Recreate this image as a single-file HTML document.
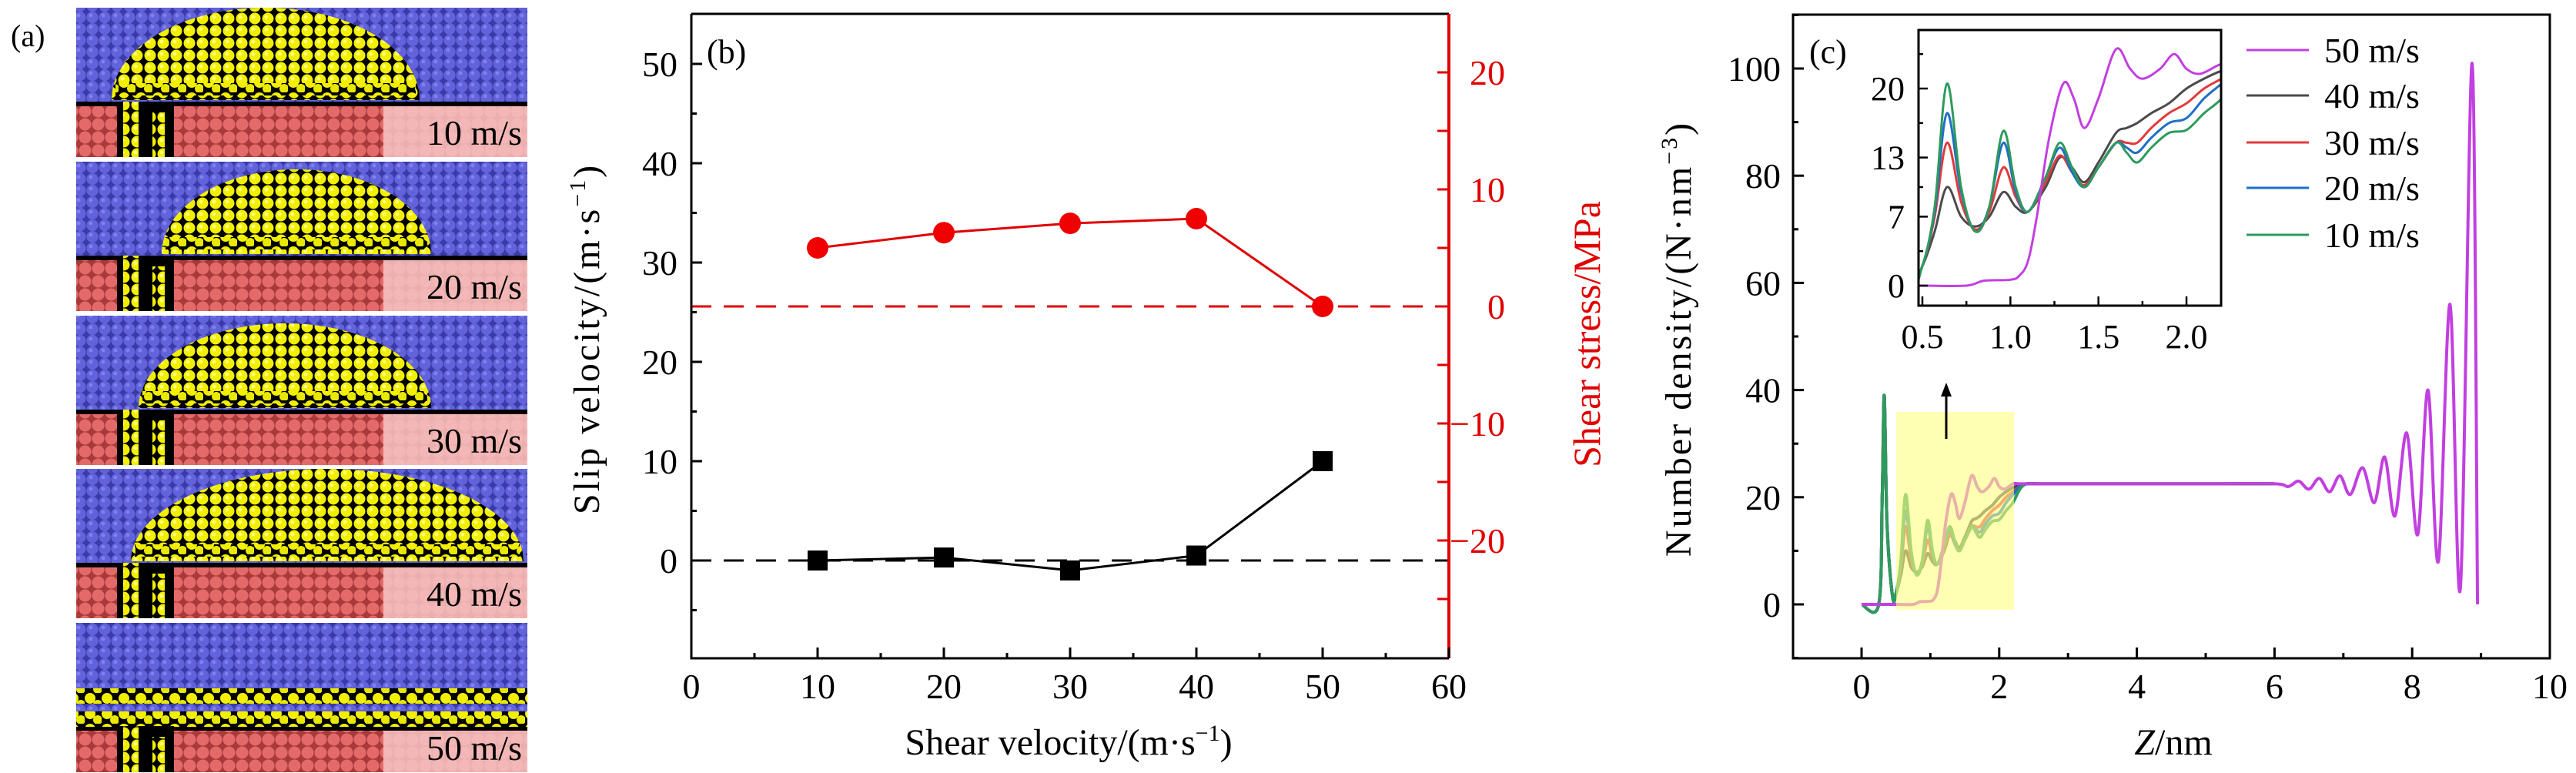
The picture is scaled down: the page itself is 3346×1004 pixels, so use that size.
<!DOCTYPE html>
<html><head><meta charset="utf-8"><style>
body{margin:0;background:#fff}
svg{display:block;font-family:"Liberation Serif",serif}
</style></head><body>
<svg id="fig" width="3346" height="1004" viewBox="0 0 3346 1004" xmlns="http://www.w3.org/2000/svg">
<defs>
<pattern id="pBlue" width="16" height="15" patternUnits="userSpaceOnUse"><rect width="16" height="15" fill="#3a3aa8"/><circle cx="8" cy="7.5" r="7.6" fill="#6262da"/><circle cx="6" cy="5" r="2.5" fill="#8080ee"/></pattern>
<pattern id="pRed" width="17" height="17" patternUnits="userSpaceOnUse"><rect width="17" height="17" fill="#a83a3a"/><circle cx="8.5" cy="8.5" r="8" fill="#e46a6a"/></pattern>
<pattern id="pYel" width="17" height="16" patternUnits="userSpaceOnUse"><rect width="17" height="16" fill="#000"/><circle cx="8" cy="8" r="7.5" fill="#f2f000"/><circle cx="6" cy="6" r="2.5" fill="#ffff80"/></pattern>
<pattern id="pYelS" width="22" height="20" patternUnits="userSpaceOnUse"><rect width="22" height="20" fill="#000"/><circle cx="7" cy="7" r="7" fill="#f2f000"/><circle cx="17" cy="15" r="6" fill="#e8e800"/></pattern>
<clipPath id="clipB"><rect x="898" y="18" width="984" height="837"/></clipPath>
<clipPath id="clipC"><rect x="2329" y="19" width="983" height="836"/></clipPath>
<clipPath id="clipI"><rect x="2492" y="39" width="393" height="358"/></clipPath>
</defs>
<g id="panelA"></g>
<text x="14" y="60" font-size="40">(a)</text>
<g id="panelB"></g>
<g id="panelC"></g>
</svg>
<script>
// ---- Panel (b) data ----
const shearVel = [10, 20, 30, 40, 50];
const slipVel = [0, 0.3, -1, 0.5, 10];
const shearStress = [5.0, 6.3, 7.1, 7.5, 0];
const bXTicks = [0, 10, 20, 30, 40, 50, 60];
const bYTicks = [0, 10, 20, 30, 40, 50];
const bRTicks = [-20, -10, 0, 10, 20];
// ---- Panel (c) data ----
const zA = [0,0.25,0.3,0.33,0.37,0.45,0.5,0.57,0.64,0.72,0.8,0.88,0.96,1.03,1.1,1.2,1.28,1.35,1.42,1.5,1.6,1.66,1.72,1.8,1.9,2.0,2.1,2.2,2.3,2.4,2.6,3,4,5,6];
const d10 = [0,0,20,39,15,1.5,2,8,20.5,10,5.5,8,15.7,10,7.5,11,14.5,12,10,12,14.5,13.5,12.5,14,15.5,15.8,17.5,19,21.5,22.5,22.5,22.5,22.5,22.5,22.5];
const d20 = [0,0,20,39,15,1.5,2,7.5,17.5,9.5,5.5,8,14.5,9.5,7.5,11,14,11.5,10,12,14.5,14,13.5,15,16.5,17,19,20.5,22,22.5,22.5,22.5,22.5,22.5,22.5];
const d30 = [0,0,20,39,15,1.5,2,7,14.5,8.5,5.7,7.5,12,9,7.5,10.5,13.2,11.5,10.2,12,14.5,14.5,14.5,16,17.5,18.5,20,21,22,22.5,22.5,22.5,22.5,22.5,22.5];
const d40 = [0,0,20,39,15,1.5,2,5.5,10,7,6,7,9.5,8,7.5,10,13,12,10.5,12.5,15.5,16,16.5,17.5,18.5,20,21,21.8,22.2,22.5,22.5,22.5,22.5,22.5,22.5];
const z50 = [0,0.3,0.5,0.75,0.85,1.0,1.05,1.1,1.15,1.22,1.3,1.36,1.42,1.5,1.6,1.68,1.75,1.85,1.93,2.0,2.08,2.2,2.3,2.5,3,4,5,6,6.2,6.35,6.5,6.65,6.8,6.95,7.1,7.28,7.45,7.6,7.75,7.92,8.08,8.23,8.38,8.55,8.7,8.87,8.95];
const d50 = [0,0,0,0,0.5,0.6,1,2.5,7,15,20.5,19,16,19,24,22,21,22,23.5,22,21.5,22.5,22.5,22.5,22.5,22.5,22.5,22.5,22,23,21.5,23.5,21,24,20.5,25.5,19,27.5,16.5,32,13,40,8,56,3,101,0];
const seriesLabels = ["50 m/s","40 m/s","30 m/s","20 m/s","10 m/s"];
const cXTicks = [0,2,4,6,8,10];
const cYTicks = [0,20,40,60,80,100];
const iXTicks = [0.5,1.0,1.5,2.0];
const iYTicks = [0,7,13,20];
const snapLabels = ["10 m/s","20 m/s","30 m/s","40 m/s","50 m/s"];

const NS="http://www.w3.org/2000/svg";
function mk(tag, attrs, parent, txt){const e=document.createElementNS(NS,tag);for(const k in attrs)e.setAttribute(k,attrs[k]);if(txt!==undefined)e.textContent=txt;parent.appendChild(e);return e;}
function smooth(pts){
  let d="M"+pts[0][0].toFixed(1)+","+pts[0][1].toFixed(1);
  for(let i=0;i<pts.length-1;i++){
    const p0=pts[Math.max(i-1,0)],p1=pts[i],p2=pts[i+1],p3=pts[Math.min(i+2,pts.length-1)];
    const c1=[p1[0]+(p2[0]-p0[0])/6,p1[1]+(p2[1]-p0[1])/6];
    const c2=[p2[0]-(p3[0]-p1[0])/6,p2[1]-(p3[1]-p1[1])/6];
    d+="C"+c1[0].toFixed(1)+","+c1[1].toFixed(1)+" "+c2[0].toFixed(1)+","+c2[1].toFixed(1)+" "+p2[0].toFixed(1)+","+p2[1].toFixed(1);
  }
  return d;
}

// ---- Panel (a) ----
const A=document.getElementById('panelA');
const imgTops=[10,210,410,609,809], imgH=194, ax0=99, ax1=685;
const domes=[[145,545,120],[210,560,110],[180,560,110],[170,680,120],[0,0,0]];
for(let i=0;i<5;i++){
  const t=imgTops[i], g=mk('g',{},A);
  
  
  const redTop = i===4 ? t+140 : t+128;
  mk('rect',{x:ax0,y:t,width:ax1-ax0,height:imgH,fill:'url(#pBlue)'},g);
  mk('rect',{x:ax0,y:redTop-6,width:ax1-ax0,height:6,fill:'#000'},g);
  mk('rect',{x:ax0,y:redTop,width:ax1-ax0,height:t+imgH-redTop,fill:'url(#pRed)'},g);
  if(i<4){
    const [l,r,h]=domes[i], base=redTop-8, rx=(r-l)/2;
    mk('path',{d:`M${l},${base} A${rx},${h} 0 0 1 ${r},${base} Z`,fill:'url(#pYel)'},g);
    mk('rect',{x:l+5,y:base-22,width:r-l-10,height:16,fill:'url(#pYelS)'},g);
  } else {
    mk('rect',{x:ax0,y:t+85,width:ax1-ax0,height:20,fill:'url(#pYelS)'},g);
    mk('rect',{x:ax0,y:t+115,width:ax1-ax0,height:20,fill:'url(#pYelS)'},g);
  }
  mk('rect',{x:152,y:redTop-6,width:74,height:t+imgH-redTop+6,fill:'#000'},g);
  mk('rect',{x:160,y:redTop-6,width:20,height:t+imgH-redTop+6,fill:'url(#pYel)'},g);
  mk('rect',{x:198,y:redTop+8,width:16,height:t+imgH-redTop-8,fill:'url(#pYel)'},g);
  mk('rect',{x:498,y:redTop,width:ax1-498,height:t+imgH-redTop,fill:'#f7c4c4',opacity:'0.85'},g);
  const lb=mk('text',{x:678,y:t+imgH-16,'font-size':46,'text-anchor':'end'},g,snapLabels[i]);
  
  
}

// ---- Panel (b) ----
const B=document.getElementById('panelB');
const xb=v=>898+v*16.4, yb=v=>728-v*12.9, yr=v=>398-v*15.2;
const bL=898,bR=1882,bT=18,bB=855;
mk('line',{x1:bL,y1:yr(0),x2:bR,y2:yr(0),stroke:'#e00000','stroke-width':3,'stroke-dasharray':'26,16'},B);
mk('line',{x1:bL,y1:yb(0),x2:bR,y2:yb(0),stroke:'#000','stroke-width':3,'stroke-dasharray':'26,16'},B);
const bFrame=mk('path',{d:`M${bL},${bT}H${bR}M${bL},${bT}V${bB}H${bR}`,stroke:'#000','stroke-width':3,fill:'none'},B);


mk('line',{x1:bR,y1:bT,x2:bR,y2:bB,stroke:'#e00000','stroke-width':4},B);
for(let v=0;v<=60;v+=5){const x=xb(v);mk('line',{x1:x,y1:bB,x2:x,y2:bB-(v%10?7:14),stroke:'#000','stroke-width':3},B);}
bXTicks.forEach(v=>{const t=mk('text',{x:xb(v),y:bB+52,'font-size':46,'text-anchor':'middle'},B,v);});
for(let v=-5;v<=50;v+=5){const y=yb(v);mk('line',{x1:bL,y1:y,x2:bL+(v%10?7:14),y2:y,stroke:'#000','stroke-width':3},B);}
bYTicks.forEach(v=>{const t=mk('text',{x:bL-18,y:yb(v)+16,'font-size':46,'text-anchor':'end'},B,v);});
for(let v=-25;v<=20;v+=5){const y=yr(v);mk('line',{x1:bR,y1:y,x2:bR-15,y2:y,stroke:'#e00000','stroke-width':3},B);}
bRTicks.forEach(v=>{const t=mk('text',{x:1955,y:yr(v)+16,'font-size':46,'text-anchor':'end',fill:'#e00000'},B,v<0?'\u2212'+(-v):v);});
const gb=mk('g',{'clip-path':'url(#clipB)'},B);
mk('polyline',{points:shearVel.map((v,i)=>xb(v)+','+yb(slipVel[i])).join(' '),fill:'none',stroke:'#000','stroke-width':3},gb);
mk('polyline',{points:shearVel.map((v,i)=>xb(v)+','+yr(shearStress[i])).join(' '),fill:'none',stroke:'#e00000','stroke-width':3},gb);
shearVel.forEach((v,i)=>{
  const s=mk('rect',{x:xb(v)-13,y:yb(slipVel[i])-13,width:26,height:26,fill:'#000'},gb);
  
  
  const c=mk('circle',{cx:xb(v),cy:yr(shearStress[i]),r:14,fill:'#f00000'},gb);
  
  
});
mk('text',{x:918,y:82,'font-size':44},B,'(b)');
let t=mk('text',{x:1388,y:980,'font-size':48,'text-anchor':'middle'},B);

t.innerHTML='Shear velocity/(m·s<tspan font-size="30" dy="-18">−1</tspan><tspan dy="18">)</tspan>';
t=mk('text',{x:0,y:0,'font-size':48,'text-anchor':'middle',transform:'translate(778,440) rotate(-90)','letter-spacing':'3'},B);

t.innerHTML='Slip velocity/(m·s<tspan font-size="30" dy="-18">−1</tspan><tspan dy="18">)</tspan>';
t=mk('text',{x:0,y:0,'font-size':50,'text-anchor':'middle',fill:'#e00000',transform:'translate(2078,434) rotate(-90)'},B,'Shear stress/MPa');


// ---- Panel (c) ----
const C=document.getElementById('panelC');
const xc=v=>2418+v*89.4, yc=v=>785-v*6.96;
const cL=2329,cR=3312,cT=19,cB=855;
const colors={"50":"#c23fe0","40":"#4a4a4a","30":"#e23a3a","20":"#1f6fc8","10":"#2e9a5c"};
const series=[["40",zA,d40],["30",zA,d30],["20",zA,d20],["10",zA,d10],["50",z50,d50]];
const gc=mk('g',{'clip-path':'url(#clipC)'},C);
series.forEach(s=>{const p=mk('path',{d:smooth(s[1].map((z,i)=>[xc(z),yc(s[2][i])])),fill:'none',stroke:colors[s[0]],'stroke-width':4},gc);});
const yb2=mk('rect',{x:2463,y:535,width:153,height:257,fill:'#ffff80',opacity:'0.6'},C);


mk('line',{x1:2528,y1:570,x2:2528,y2:512,stroke:'#000','stroke-width':3},C);
mk('path',{d:'M2521,515 L2528,497 L2535,515 Z',fill:'#000'},C);
const cFrame=mk('rect',{x:cL,y:cT,width:cR-cL,height:cB-cT,fill:'none',stroke:'#000','stroke-width':3},C);


for(let v=0;v<=10;v+=1){const x=xc(v);mk('line',{x1:x,y1:cB,x2:x,y2:cB-(v%2?7:14),stroke:'#000','stroke-width':3},C);}
cXTicks.forEach(v=>{const t=mk('text',{x:xc(v),y:cB+52,'font-size':46,'text-anchor':'middle'},C,v);});
for(let v=-10;v<=110;v+=10){const y=yc(v);if(y<cT||y>cB)continue;mk('line',{x1:cL,y1:y,x2:cL+(v%20?7:14),y2:y,stroke:'#000','stroke-width':3},C);}
cYTicks.forEach(v=>{const t=mk('text',{x:cL-16,y:yc(v)+16,'font-size':46,'text-anchor':'end'},C,v);});
mk('text',{x:2350,y:82,'font-size':44},C,'(c)');
t=mk('text',{x:2823,y:980,'font-size':48,'text-anchor':'middle'},C);

t.innerHTML='<tspan font-style="italic">Z</tspan>/nm';
t=mk('text',{x:0,y:0,'font-size':48,'text-anchor':'middle',transform:'translate(2196,440) rotate(-90)','letter-spacing':'3'},C);

t.innerHTML='Number density/(N·nm<tspan font-size="30" dy="-18">−3</tspan><tspan dy="18">)</tspan>';
// inset
const xi=v=>2497+(v-0.5)*228.7, yi=v=>371-v*12.8;
const I=mk('g',{},C);


mk('rect',{x:2492,y:39,width:393,height:358,fill:'#fff'},I);
const gi=mk('g',{'clip-path':'url(#clipI)'},I);
series.forEach(s=>{const p=mk('path',{d:smooth(s[1].map((z,i)=>[xi(z),yi(s[2][i])])),fill:'none',stroke:colors[s[0]],'stroke-width':3},gi);});
mk('rect',{x:2492,y:39,width:393,height:358,fill:'none',stroke:'#000','stroke-width':3},I);
for(let v=0.5;v<=2.15;v+=0.25){const x=xi(v);mk('line',{x1:x,y1:397,x2:x,y2:397-(Math.abs(v*2-Math.round(v*2))<0.01?12:6),stroke:'#000','stroke-width':2.5},I);}
iXTicks.forEach(v=>{const t=mk('text',{x:xi(v),y:452,'font-size':44,'text-anchor':'middle'},I,v.toFixed(1));});
[0,3.5,7,10,13,16.5,20,23.5].forEach(v=>{const y=yi(v);mk('line',{x1:2492,y1:y,x2:2492+([0,7,13,20].includes(v)?12:6),y2:y,stroke:'#000','stroke-width':2.5},I);});
iYTicks.forEach(v=>{const t=mk('text',{x:2474,y:yi(v)+15,'font-size':44,'text-anchor':'end'},I,v);});
// legend
const Lg=mk('g',{},C);


const legY=[65,124,185,244,305];
seriesLabels.forEach((lab,i)=>{
  const key=lab.split(' ')[0];
  const e=mk('g',{},Lg);
  
  
  mk('line',{x1:2918,y1:legY[i],x2:2999,y2:legY[i],stroke:colors[key],'stroke-width':3},e);
  mk('text',{x:3019,y:legY[i]+16,'font-size':46},e,lab);
});
</script>
</body></html>
